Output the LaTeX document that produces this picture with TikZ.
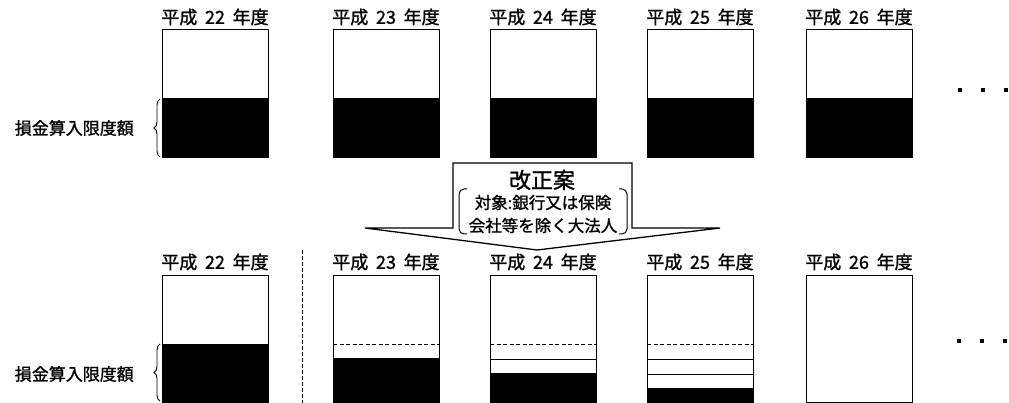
\documentclass[tikz,border=0pt]{standalone}
\usepackage{fontspec}
\newfontfamily\jp{Noto Sans CJK JP}[WordSpace=1.9, FakeBold=1.2]
\usetikzlibrary{decorations.pathreplacing}
\tikzset{
  frame/.style={draw=black, line width=1.2pt},
  yl/.style={font=\jp\fontsize{18pt}{20pt}\selectfont, inner sep=0pt},
  sidelabel/.style={font=\jp\fontsize{17pt}{18pt}\selectfont, inner sep=0pt},
  bracel/.style={decorate, decoration={brace, amplitude=6pt}, line width=0.9pt},
  dashsep/.style={line width=1pt, dash pattern=on 4pt off 2.5pt},
  divline/.style={line width=1pt, dash pattern=on 4pt off 2pt},
  solidline/.style={line width=1pt},
  callout/.style={draw=black, line width=1.3pt, fill=white},
  dotmark/.style={fill=black, minimum size=3.5pt, inner sep=0pt, draw=none},
}
\begin{document}
\begin{tikzpicture}[x=1pt, y=-1pt]
\useasboundingbox (0,0) rectangle (1009,403);
% ---------- top row ----------
\foreach \x/\yr in {162/22, 333/23, 490/24, 647/25, 806/26}{
  \fill[black] (\x,98) rectangle (\x+106,157);
  \node[frame, anchor=north west, minimum width=106pt, minimum height=128pt, inner sep=0pt] (T\yr) at (\x,29) {};
  \node[yl] (TL\yr) at (\x+53,17) {平成 \yr{} 年度};
}
\node[sidelabel, anchor=east] (sideT) at (134,128) {損金算入限度額};
\draw[bracel] (160,157) -- (160,99);
% dots
\node[dotmark] (d1) at (960,90) {};
\node[dotmark] (d2) at (983,90) {};
\node[dotmark] (d3) at (1006,90) {};
% ---------- callout arrow ----------
\draw[callout] (453,163) -- (632,163) -- (632,228) -- (720,228) -- (537,250) -- (365,228) -- (453,228) -- cycle;
\node[font=\jp\fontsize{22pt}{24pt}\selectfont, inner sep=0pt] (kaisei) at (542,180) {改正案};
\node[font=\jp\fontsize{16.5pt}{23pt}\selectfont, inner sep=0pt, align=center] (taisho) at (543,214) {対象:銀行又は保険\\会社等を除く大法人};
\draw[line width=1pt, rounded corners=5pt] (467,189) -- (459,189) -- (459,234) -- (467,234);
\draw[line width=1pt, rounded corners=5pt] (619,189) -- (627,189) -- (627,234) -- (619,234);
% ---------- bottom row ----------
\foreach \x/\yr in {162/22, 333/23, 490/24, 647/25, 806/26}{
  \node[yl] (BL\yr) at (\x+53,262) {平成 \yr{} 年度};
}
% 22
\fill[black] (162,344) rectangle (268,401.5);
\node[frame, anchor=north west, minimum width=106pt, minimum height=126.5pt, inner sep=0pt] (B22) at (162,275) {};
% 23
\fill[black] (333,358) rectangle (439,401.5);
\draw[dashsep] (333,344) -- (439,344);
\node[frame, anchor=north west, minimum width=106pt, minimum height=126.5pt, inner sep=0pt] (B23) at (333,275) {};
% 24
\fill[black] (490,373) rectangle (596,401.5);
\draw[dashsep] (490,344) -- (596,344);
\draw[solidline] (490,359) -- (596,359);
\node[frame, anchor=north west, minimum width=106pt, minimum height=126.5pt, inner sep=0pt] (B24) at (490,275) {};
% 25
\fill[black] (647,388) rectangle (753,401.5);
\draw[dashsep] (647,344) -- (753,344);
\draw[solidline] (647,359) -- (753,359);
\draw[solidline] (647,374) -- (753,374);
\node[frame, anchor=north west, minimum width=106pt, minimum height=126.5pt, inner sep=0pt] (B25) at (647,275) {};
% 26
\node[frame, anchor=north west, minimum width=106pt, minimum height=126.5pt, inner sep=0pt] (B26) at (806,275) {};
\node[sidelabel, anchor=east] (sideB) at (134,374) {損金算入限度額};
\draw[bracel] (160,401) -- (160,344);
\coordinate (sepTop) at (302,250);
\coordinate (sepBot) at (302,403);
\draw[divline] (sepTop) -- (sepBot);
\node[dotmark] (e1) at (959,341) {};
\node[dotmark] (e2) at (982,341) {};
\node[dotmark] (e3) at (1005,341) {};
\end{tikzpicture}
\end{document}
